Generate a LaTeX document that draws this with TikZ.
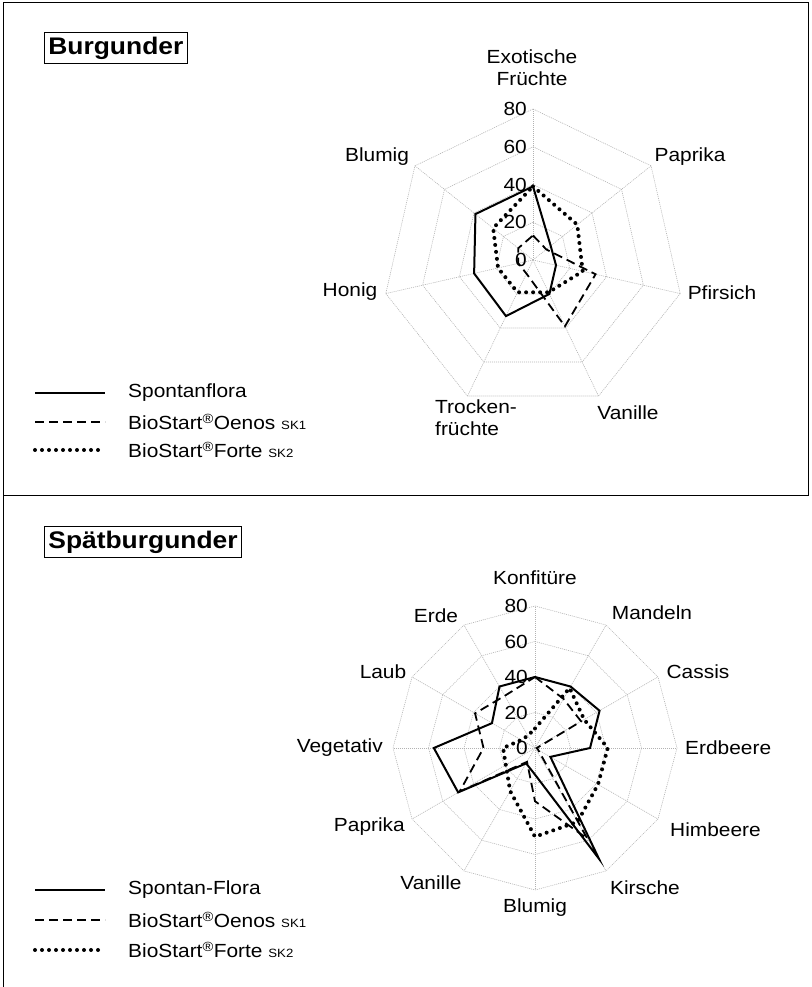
\documentclass[tikz,border=0pt]{standalone}
\usepackage{fontspec}
\setmainfont{Liberation Sans}[FakeStretch=1.1]
\usetikzlibrary{positioning}

\tikzset{
  gridline/.style={gray!60, line width=0.6pt, dash pattern=on 1pt off 1pt},
  spontan/.style={line width=2pt, line join=miter},
  oenos/.style={line width=1.8pt, dash pattern=on 9pt off 5pt},
  forte/.style={line width=4pt, dash pattern=on 0pt off 7pt, line cap=round},
  axlabel/.style={font=\fontsize{19}{22}\selectfont, inner sep=0pt},
  titlebox/.style={draw, line width=0.8pt, font=\fontsize{24}{28}\selectfont\bfseries, inner sep=4pt},
}
\newcommand{\sk}[1]{{\fontsize{12}{12}\selectfont SK#1}}

\begin{document}
\begin{tikzpicture}[x=1pt,y=1pt]
        \useasboundingbox (0,0) rectangle (811,987);

        % frame
        \draw[line width=0.8pt] (3,0) -- (3,985) -- (808,985) -- (808,492) -- (3,492);

        % ================== Burgunder ==================
        \node[titlebox, anchor=west] (burg) at (44,939) {Burgunder};

        \begin{scope}[shift={(533,727)}]
        \def\sc{1.8875}
        % rings and spokes
        \foreach \r in {20,40,60,80}
            \draw[gridline] (90:{\r*\sc}) \foreach \k in {1,...,6} { -- ({90-\k*360/7}:{\r*\sc}) } -- cycle;
        \foreach \k in {0,...,6}
            \draw[gridline] (0,0) -- ({90-\k*360/7}:{80*\sc});
        % scale
        \foreach \r in {0,20,...,80}
            \node[axlabel, anchor=east] (tnum\r) at (-6,{\r*\sc}) {\r};
        % series
        \draw[spontan] (90:{39*\sc}) \foreach \v [count=\k from 0] in {39,12,12.5,20,33,32,39} { -- ({90-\k*360/7}:{\v*\sc}) } -- cycle;
        \draw[oenos] (90:{13*\sc}) \foreach \v [count=\k from 0] in {13,9,34,39,8,8,10} { -- ({90-\k*360/7}:{\v*\sc}) } -- cycle;
        \draw[forte] (90:{39*\sc}) \foreach \v [count=\k from 0] in {39,30,27,19,19,19,27} { -- ({90-\k*360/7}:{\v*\sc}) } -- cycle;
        \end{scope}

        % axis labels
        \node[axlabel, align=center] (exotic) at (532,919) {Exotische\\Früchte};
        \node[axlabel] (paprikaA) at (690,830) {Paprika};
        \node[axlabel] (pfirsich) at (722,694) {Pfirsich};
        \node[axlabel] (vanilleA) at (628,574) {Vanille};
        \node[axlabel, align=left, anchor=west] (trocken) at (435,569) {Trocken-\\früchte};
        \node[axlabel] (honig) at (350,695) {Honig};
        \node[axlabel] (blumigA) at (377,830) {Blumig};

        % legend
        \node[axlabel, anchor=west] (tleg1) at (128,594) {Spontanflora};
        \node[axlabel, anchor=west] (tleg2) at (128,565) {BioStart\textsuperscript{®}Oenos \sk{1}};
        \node[axlabel, anchor=west] (tleg3) at (128,537) {BioStart\textsuperscript{®}Forte \sk{2}};
        \draw[spontan] ([xshift=-93pt]tleg1.west) -- ([xshift=-23pt]tleg1.west);
        \draw[oenos] ([xshift=-93pt]tleg2.west) -- ([xshift=-23pt]tleg2.west);
        \draw[forte] ([xshift=-93pt]tleg3.west) -- ([xshift=-23pt]tleg3.west);

        % ================== Spaetburgunder ==================
        \node[titlebox, anchor=west] (spaet) at (44,445) {Spätburgunder};

        \begin{scope}[shift={(535,239)}]
        \def\sc{1.775}
        % rings and spokes
        \foreach \r in {20,40,60,80}
            \draw[gridline] (90:{\r*\sc}) \foreach \k in {1,...,11} { -- ({90-\k*30}:{\r*\sc}) } -- cycle;
        \foreach \k in {0,...,11}
            \draw[gridline] (0,0) -- ({90-\k*30}:{80*\sc});
        % scale
        \foreach \r in {0,20,...,80}
            \node[axlabel, anchor=east] (bnum\r) at (-7,{\r*\sc}) {\r};
        % series
        \draw[spontan] (90:{40*\sc}) \foreach \v [count=\k from 0] in {40,40,42,31,10,72,15,10,50,57,28,40} { -- ({90-\k*30}:{\v*\sc}) } -- cycle;
        \draw[oenos] (90:{40*\sc}) \foreach \v [count=\k from 0] in {40,32,30,1,2,59,30,9,49,29,39,34} { -- ({90-\k*30}:{\v*\sc}) } -- cycle;
        \draw[forte] (90:{11*\sc}) \foreach \v [count=\k from 0] in {11,39,32,41,41,48,50,28,19,18,9,8} { -- ({90-\k*30}:{\v*\sc}) } -- cycle;
        \end{scope}

        % axis labels
        \node[axlabel] (konf) at (535,409) {Konfitüre};
        \node[axlabel] (mandeln) at (652,374) {Mandeln};
        \node[axlabel] (cassis) at (698,315) {Cassis};
        \node[axlabel, anchor=west] (erdbeere) at (685,239) {Erdbeere};
        \node[axlabel, anchor=west] (himbeere) at (670,157) {Himbeere};
        \node[axlabel] (kirsche) at (645,99) {Kirsche};
        \node[axlabel] (blumigB) at (535,79) {Blumig};
        \node[axlabel] (vanilleB) at (431,104) {Vanille};
        \node[axlabel, anchor=east] (paprikaB) at (405,160) {Paprika};
        \node[axlabel, anchor=east] (vegetativ) at (383,239) {Vegetativ};
        \node[axlabel] (laub) at (383,315) {Laub};
        \node[axlabel] (erde) at (436,371) {Erde};

        % legend
        \node[axlabel, anchor=west] (bleg1) at (128,97) {Spontan-Flora};
        \node[axlabel, anchor=west] (bleg2) at (128,67) {BioStart\textsuperscript{®}Oenos \sk{1}};
        \node[axlabel, anchor=west] (bleg3) at (128,37) {BioStart\textsuperscript{®}Forte \sk{2}};
        \draw[spontan] ([xshift=-93pt]bleg1.west) -- ([xshift=-23pt]bleg1.west);
        \draw[oenos] ([xshift=-93pt]bleg2.west) -- ([xshift=-23pt]bleg2.west);
        \draw[forte] ([xshift=-93pt]bleg3.west) -- ([xshift=-23pt]bleg3.west);
\end{tikzpicture}
\end{document}
